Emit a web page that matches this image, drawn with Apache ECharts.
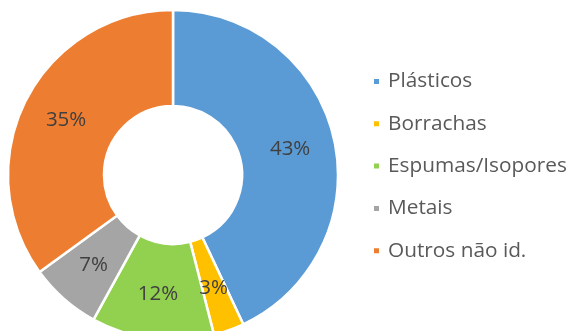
<!DOCTYPE html>
<html><head><meta charset="utf-8">
<script src="https://cdn.jsdelivr.net/npm/echarts@6/dist/echarts.min.js"></script>
<style>html,body{margin:0;padding:0;background:#fff}#c{width:573px;height:331px}</style>
</head><body><div id="c"></div>
<script>
const categories = ["Plásticos", "Borrachas", "Espumas/Isopores", "Metais", "Outros não id."];
const values = [43, 3, 12, 7, 35];
const colors = ["#5B9BD5", "#FFC000", "#92D050", "#A5A5A5", "#ED7D31"];

const chart = echarts.init(document.getElementById('c'), null, {renderer: 'canvas'});
chart.setOption({
  animation: false,
  color: colors,
  legend: {
    orient: 'vertical',
    left: 372,
    top: 70,
    padding: 0,
    itemWidth: 7,
    itemHeight: 7,
    itemGap: 19.3,
    icon: 'rect',
    data: categories,
    textStyle: {fontFamily: 'Open Sans', fontSize: 20.8, color: '#595959', padding: [0,0,0,3], lineHeight: 23}
  },
  series: [{
    type: 'pie',
    center: [173, 175],
    radius: [69, 165],
    startAngle: 90,
    clockwise: true,
    itemStyle: {borderColor: '#fff', borderWidth: 2.5},
    label: {
      position: 'inside',
      formatter: '{c}%',
      fontFamily: 'Open Sans',
      fontSize: 20.5,
      color: '#404040'
    },
    labelLine: {show: false},
    emphasis: {disabled: true},
    data: categories.map((n, i) => ({name: n, value: values[i]}))
  }]
});
</script></body></html>
